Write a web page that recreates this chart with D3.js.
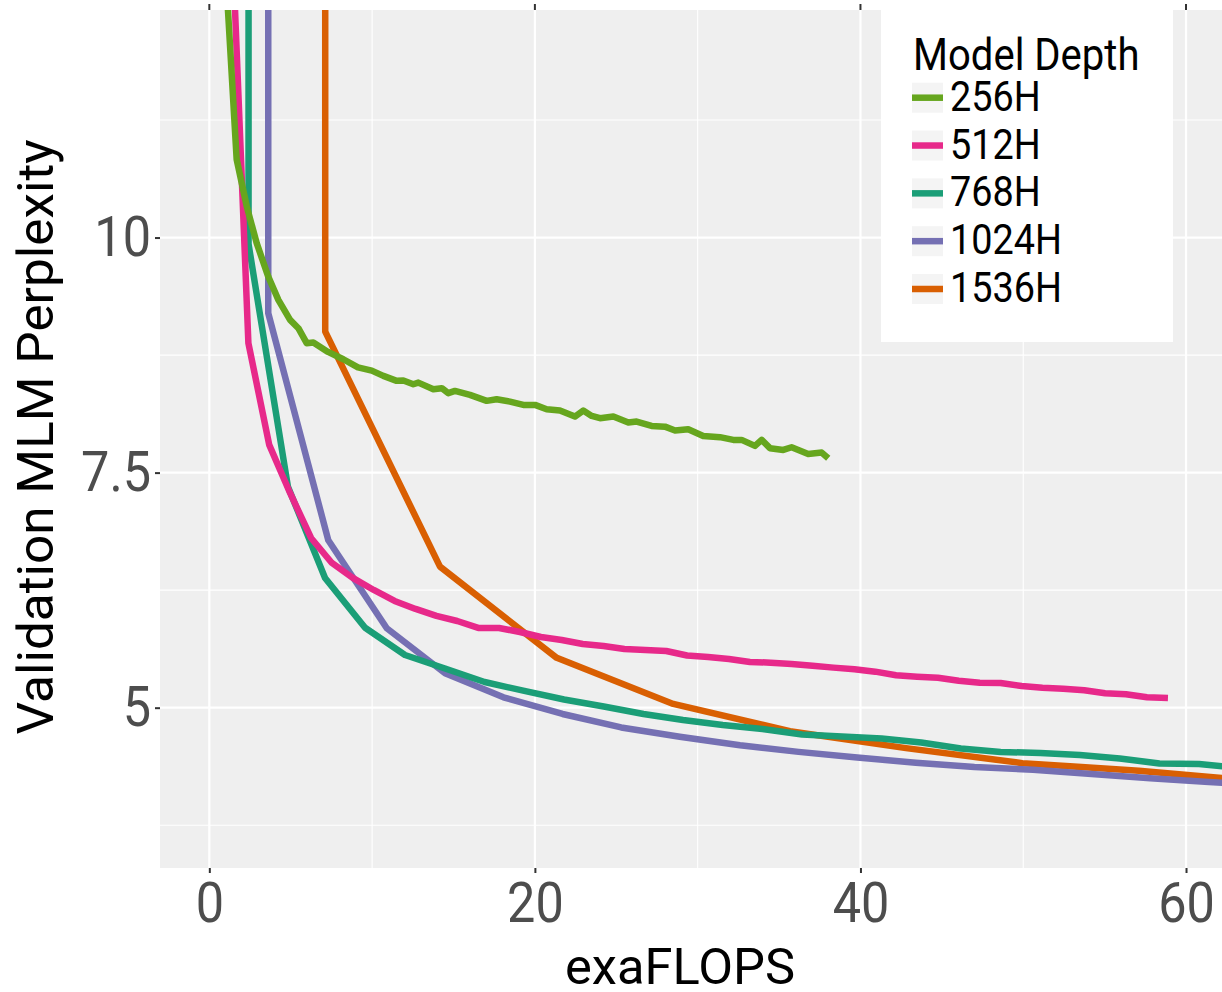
<!DOCTYPE html>
<html>
<head>
<meta charset="utf-8">
<script src="https://cdn.jsdelivr.net/npm/d3@7"></script>
<style>
  body { margin: 0; background: #fff; }
  svg { display: block; font-family: Roboto, "Noto Sans", sans-serif; }
</style>
</head>
<body>
<div id="chart"></div>
<script>
/* Series */
const seriesNames = ["256H", "512H", "768H", "1024H", "1536H"];
const seriesColors = ["#66a61e", "#e7298a", "#1b9e77", "#7570b3", "#d95f02"];

// 256H
const flops256 = [1.05, 1.68, 2.30, 2.91, 3.62, 4.24, 4.96, 5.47, 5.98, 6.39, 7.29, 8.23, 9.13, 9.98,
  10.69, 11.51, 11.92, 12.53, 12.84, 13.76, 14.28, 14.68, 15.09, 16.01, 17.04, 17.65, 18.47, 19.29,
  20.01, 20.72, 21.54, 22.46, 22.97, 23.49, 24.00, 24.82, 25.74, 26.25, 27.17, 27.99, 28.61, 29.42,
  30.34, 31.37, 32.19, 32.70, 33.52, 33.93, 34.44, 35.26, 35.77, 36.79, 37.62, 38.02];
const ppl256 = [12.7, 10.83, 10.33, 9.94, 9.585, 9.337, 9.124, 9.036, 8.877, 8.883, 8.784, 8.706, 8.619, 8.585,
  8.529, 8.476, 8.479, 8.440, 8.457, 8.387, 8.398, 8.345, 8.369, 8.327, 8.263, 8.281, 8.255, 8.220,
  8.220, 8.174, 8.160, 8.096, 8.160, 8.103, 8.079, 8.096, 8.032, 8.043, 7.997, 7.989, 7.947, 7.962,
  7.890, 7.877, 7.848, 7.848, 7.784, 7.848, 7.760, 7.741, 7.770, 7.699, 7.713, 7.653];

// 512H
const flops512 = [1.12, 2.40, 3.68, 4.96, 6.25, 7.53, 8.81, 10.10, 11.38, 12.67, 13.95, 15.23, 16.52, 17.80,
  19.08, 20.37, 21.65, 22.94, 24.22, 25.50, 26.79, 28.07, 29.35, 30.64, 31.92, 33.21, 34.49, 35.77,
  37.06, 38.34, 39.63, 40.91, 42.19, 43.48, 44.76, 46.04, 47.33, 48.61, 49.90, 51.18, 52.46, 53.75,
  55.03, 56.31, 57.60, 58.89];
const ppl512 = [14.4, 8.877, 7.795, 7.284, 6.805, 6.539, 6.380, 6.252, 6.135, 6.050, 5.976, 5.922, 5.848, 5.848,
  5.805, 5.752, 5.720, 5.678, 5.656, 5.624, 5.614, 5.603, 5.555, 5.539, 5.518, 5.486, 5.479, 5.465,
  5.447, 5.426, 5.409, 5.383, 5.345, 5.330, 5.319, 5.287, 5.266, 5.263, 5.231, 5.213, 5.202, 5.185,
  5.153, 5.143, 5.111, 5.103];

// 768H
const flops768 = [2.41, 2.41, 4.83, 7.11, 9.57, 12.02, 14.48, 16.91, 19.35, 21.79, 24.23, 26.67, 29.10,
  31.54, 33.98, 36.42, 38.86, 41.30, 43.73, 46.17, 48.61, 51.05, 53.48, 55.93, 58.37, 60.80, 63.24];
const ppl768 = [14.0, 9.93, 7.35, 6.38, 5.85, 5.56, 5.417, 5.273, 5.178, 5.087, 5.013, 4.933, 4.869,
  4.816, 4.773, 4.715, 4.694, 4.672, 4.630, 4.566, 4.529, 4.518, 4.497, 4.460, 4.406, 4.400, 4.362];

// 1024H
const flops1024 = [3.62, 3.62, 7.31, 10.90, 14.48, 18.07, 21.70, 25.30, 28.90, 32.60, 36.20, 39.80, 43.40,
  47.00, 50.60, 54.20, 57.80, 61.40, 65.00];
const ppl1024 = [14.0, 9.196, 6.78, 5.845, 5.366, 5.11, 4.933, 4.79, 4.69, 4.60, 4.53, 4.47, 4.415,
  4.37, 4.34, 4.295, 4.25, 4.21, 4.17];

// 1536H
const flops1536 = [7.12, 7.12, 14.17, 21.34, 28.50, 35.67, 42.80, 49.95, 57.10, 64.20];
const ppl1536 = [14.0, 9.0, 6.50, 5.53, 5.04, 4.75, 4.57, 4.41, 4.33, 4.22];

/* Axes */
const xTicks = [0, 20, 40, 60];
const xMinor = [10, 30, 50];
const yTicks = [5, 7.5, 10];
const yMinor = [3.75, 6.25, 8.75, 11.25];

const xTitle = "exaFLOPS";
const yTitle = "Validation MLM Perplexity";
const legendTitle = "Model Depth";

/* Dimensions */
let width = 1222, height = 992;
let panel = { left: 160, top: 10, right: 1222, bottom: 868 };

let x = d3.scaleLinear().domain([-3.03, 62.21]).range([panel.left, panel.right]);
let y = d3.scaleLinear().domain([3.295, 12.42]).range([panel.bottom, panel.top]);

let series = seriesNames.map((name, i) => {
  let xs = [flops256, flops512, flops768, flops1024, flops1536][i];
  let ys = [ppl256, ppl512, ppl768, ppl1024, ppl1536][i];
  return { name: name, color: seriesColors[i], values: xs.map((v, j) => [v, ys[j]]) };
});

let svg = d3.select('#chart')
  .append('svg')
  .attr('width', width)
  .attr('height', height);

// squeeze text a bit, the original uses a condensed face
function condense(sel, k) {
  sel.each(function () {
    let w = this.getComputedTextLength();
    d3.select(this).attr('textLength', w * k).attr('lengthAdjust', 'spacingAndGlyphs');
  });
}

svg.append('defs').append('clipPath').attr('id', 'panel-clip')
  .append('rect')
  .attr('x', panel.left).attr('y', panel.top)
  .attr('width', panel.right - panel.left).attr('height', panel.bottom - panel.top);

// panel background
svg.append('rect')
  .attr('x', panel.left).attr('y', panel.top)
  .attr('width', panel.right - panel.left).attr('height', panel.bottom - panel.top)
  .attr('fill', '#efefef');

// grid
let grid = svg.append('g');
grid.selectAll('.xminor').data(xMinor).enter().append('line')
  .attr('x1', d => x(d)).attr('x2', d => x(d))
  .attr('y1', panel.top).attr('y2', panel.bottom)
  .attr('stroke', '#fff').attr('stroke-width', 1.1);
grid.selectAll('.yminor').data(yMinor).enter().append('line')
  .attr('x1', panel.left).attr('x2', panel.right)
  .attr('y1', d => y(d)).attr('y2', d => y(d))
  .attr('stroke', '#fff').attr('stroke-width', 1.1);
grid.selectAll('.xmajor').data(xTicks).enter().append('line')
  .attr('x1', d => x(d)).attr('x2', d => x(d))
  .attr('y1', panel.top).attr('y2', panel.bottom)
  .attr('stroke', '#fff').attr('stroke-width', 2.2);
grid.selectAll('.ymajor').data(yTicks).enter().append('line')
  .attr('x1', panel.left).attr('x2', panel.right)
  .attr('y1', d => y(d)).attr('y2', d => y(d))
  .attr('stroke', '#fff').attr('stroke-width', 2.2);

// lines
let line = d3.line().x(d => x(d[0])).y(d => y(d[1]));

svg.append('g')
  .attr('clip-path', 'url(#panel-clip)')
  .selectAll('path')
  .data(series.slice().reverse())
  .enter().append('path')
  .attr('d', d => line(d.values))
  .attr('fill', 'none')
  .attr('stroke', d => d.color)
  .attr('stroke-width', 6.5)
  .attr('stroke-linejoin', 'round');

// axes
let xAxis = svg.append('g')
  .attr('transform', 'translate(0,' + panel.bottom + ')')
  .call(d3.axisBottom(x).tickValues(xTicks).tickSize(5).tickPadding(9).tickFormat(d => d));

let yAxis = svg.append('g')
  .attr('transform', 'translate(' + panel.left + ',0)')
  .call(d3.axisLeft(y).tickValues(yTicks).tickSize(5).tickPadding(4).tickFormat(d => d));

[xAxis, yAxis].forEach(ax => {
  ax.select('.domain').remove();
  ax.selectAll('.tick line').attr('stroke', '#333').attr('stroke-width', 2);
  ax.selectAll('.tick text')
    .attr('fill', '#4d4d4d')
    .style('font-size', '56px')
    .style('font-family', 'Roboto, sans-serif');
  condense(ax.selectAll('.tick text'), 0.9);
});

// small ticks peeking in above the panel
svg.append('g').selectAll('line').data(xTicks).enter().append('line')
  .attr('x1', d => x(d)).attr('x2', d => x(d))
  .attr('y1', 4).attr('y2', panel.top)
  .attr('stroke', '#333').attr('stroke-width', 2);

// titles
svg.append('text')
  .attr('x', 680).attr('y', 984)
  .attr('text-anchor', 'middle')
  .style('font-size', '50px')
  .attr('fill', '#000')
  .attr('textLength', 230).attr('lengthAdjust', 'spacingAndGlyphs')
  .text(xTitle);

svg.append('text')
  .attr('transform', 'translate(53,437) rotate(-90)')
  .attr('text-anchor', 'middle')
  .style('font-size', '50px')
  .attr('fill', '#000')
  .attr('textLength', 595).attr('lengthAdjust', 'spacingAndGlyphs')
  .text(yTitle);

// legend
let legend = svg.append('g');
legend.append('rect')
  .attr('x', 881).attr('y', panel.top)
  .attr('width', 292).attr('height', 332)
  .attr('fill', '#fff');

let legendTitleText = legend.append('text')
  .attr('x', 913).attr('y', 70)
  .style('font-size', '45px')
  .attr('fill', '#000')
  .text(legendTitle);
condense(legendTitleText, 0.89);

let rowY = d3.scalePoint().domain(seriesNames).range([97.7, 289]);

let keys = legend.selectAll('.key').data(series).enter().append('g')
  .attr('transform', d => 'translate(912,' + rowY(d.name) + ')');
keys.append('rect')
  .attr('x', 0).attr('y', -15).attr('width', 31).attr('height', 30)
  .attr('fill', '#f4f4f4');
keys.append('line')
  .attr('x1', 0).attr('x2', 31)
  .attr('stroke', d => d.color).attr('stroke-width', 6.5);
let keyText = keys.append('text')
  .attr('x', 38).attr('y', 13)
  .style('font-size', '42px')
  .attr('fill', '#000')
  .text(d => d.name);
condense(keyText, 0.9);
</script>
</body>
</html>
